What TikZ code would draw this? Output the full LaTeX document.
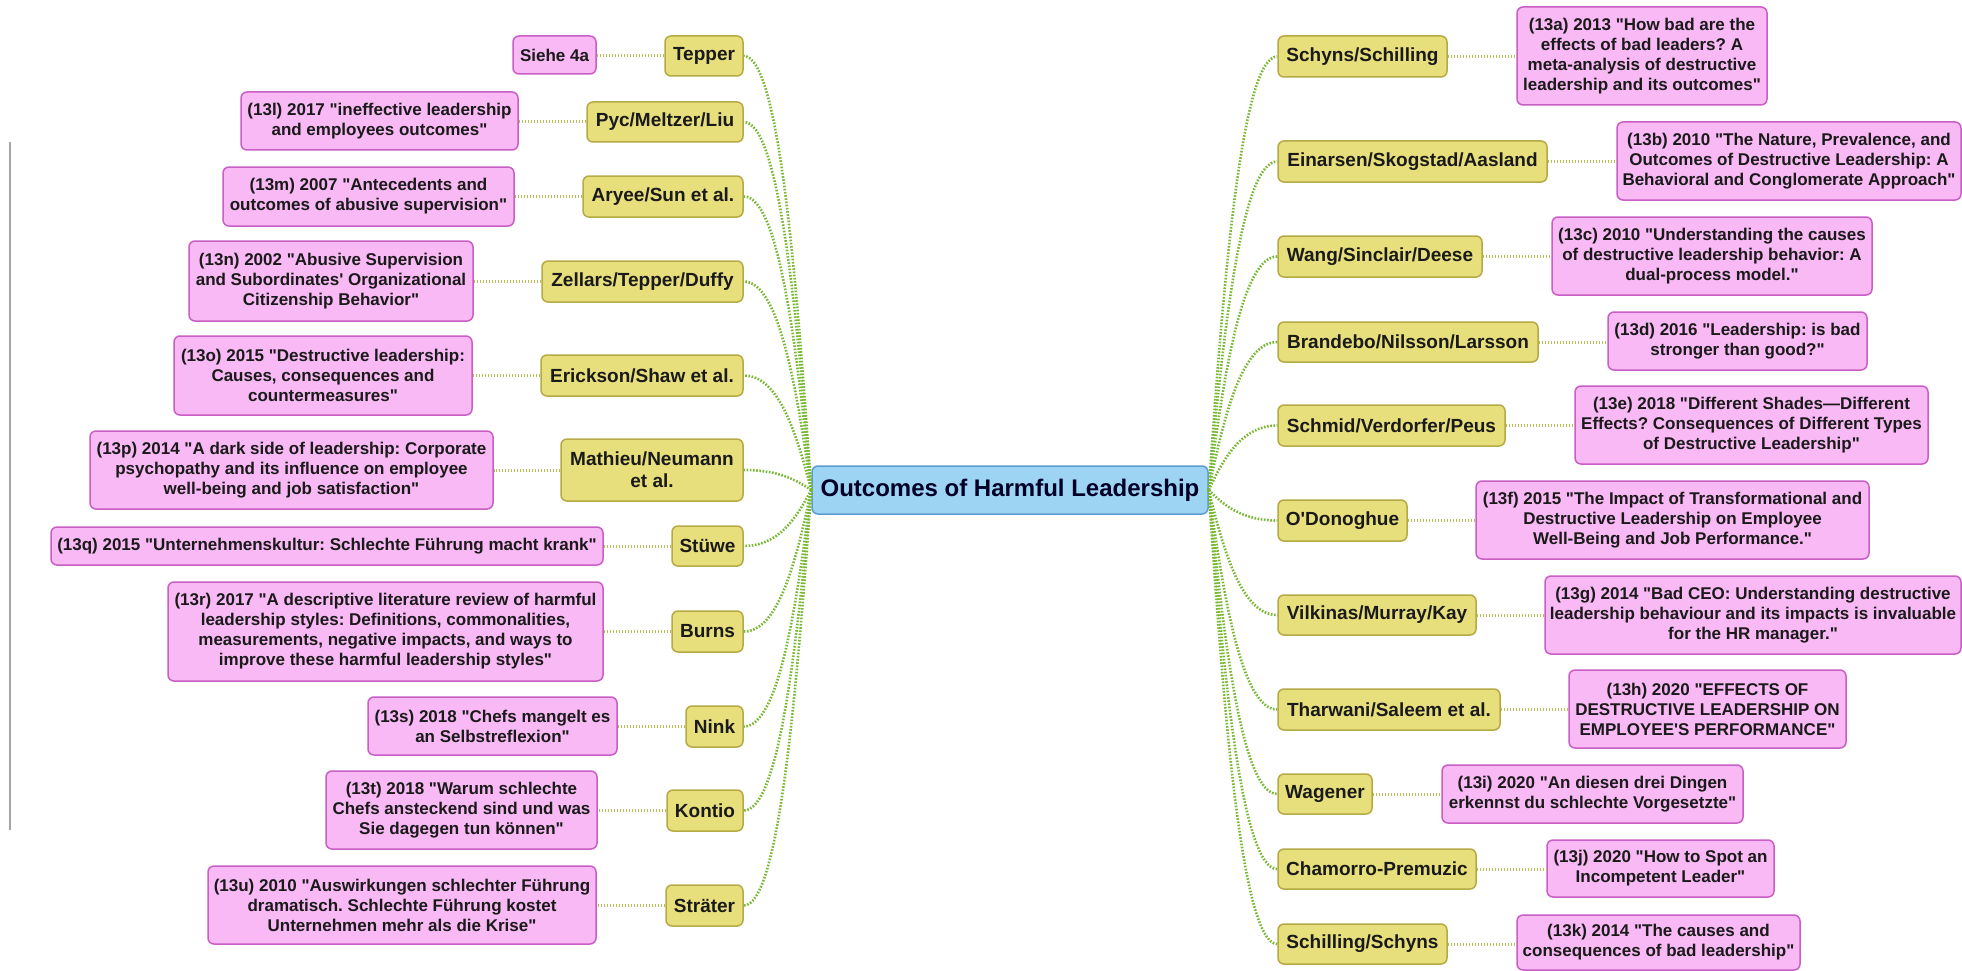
\documentclass[tikz,border=0pt]{standalone}
\usepackage{fontspec}
\newfontfamily\lsans{Liberation Sans}
\usetikzlibrary{calc}
\frenchspacing
\definecolor{yfill}{HTML}{E7DE7C}
\definecolor{ydraw}{HTML}{B5AA44}
\definecolor{pfill}{HTML}{F8B9F4}
\definecolor{pdraw}{HTML}{C95EC4}
\definecolor{cfill}{HTML}{9DD4F4}
\definecolor{cdraw}{HTML}{5C9DCF}
\definecolor{brgreen}{HTML}{78B832}
\definecolor{lkgreen}{HTML}{B7BE55}
\definecolor{txt}{HTML}{1A1A1A}
\tikzset{
  basebox/.style={rounded corners=6pt, line width=1.5pt, inner sep=2pt, align=center, text=txt},
  ynode/.style={basebox, fill=yfill, draw=ydraw, font=\lsans\bfseries\fontsize{19}{22}\selectfont},
  pnode/.style={basebox, fill=pfill, draw=pdraw, font=\lsans\bfseries\fontsize{17}{20}\selectfont},
  cnode/.style={basebox, fill=cfill, draw=cdraw, text=black!85!blue, font=\lsans\bfseries\fontsize{24}{28}\selectfont},
  branch/.style={draw=brgreen, line width=2.6pt, dash pattern=on 1.6pt off 1.6pt},
  link/.style={draw=lkgreen, line width=3pt, dash pattern=on 1.6pt off 1.4pt},
  sz/.style 2 args={minimum width=#1pt, minimum height=#2pt}
}
\begin{document}
\begin{tikzpicture}[x=1pt,y=-1pt]
\fill[white] (0,0) rectangle (1962,971);
\useasboundingbox (0,0) rectangle (1962,971);
\coordinate (gl1) at (10,142);
\coordinate (gl2) at (10,830);
\draw[gray!70, line width=1.5pt] (gl1) -- (gl2);

\node[cnode, sz={396}{48}] (C) at (1010,490) {Outcomes of Harmful Leadership};

% left yellow
\node[ynode, sz={78}{40}] (L1) at (704,56) {Tepper};
\node[ynode, sz={156}{40}] (L2) at (665,122) {Pyc/Meltzer/Liu};
\node[ynode, sz={160}{41}] (L3) at (663,196.5) {Aryee/Sun et al.};
\node[ynode, sz={201}{41}] (L4) at (642.5,281.5) {Zellars/Tepper/Duffy};
\node[ynode, sz={202}{41}] (L5) at (642,375.5) {Erickson/Shaw et al.};
\node[ynode, sz={182}{62}] (L6) at (652,470) {Mathieu/Neumann\\et al.};
\node[ynode, sz={71}{40}] (L7) at (707.5,546) {Stüwe};
\node[ynode, sz={71}{41}] (L8) at (707.5,631.5) {Burns};
\node[ynode, sz={57}{41}] (L9) at (714.5,726.5) {Nink};
\node[ynode, sz={76}{41}] (L10) at (705,810.5) {Kontio};
\node[ynode, sz={77}{41}] (L11) at (704.5,905.5) {Sträter};

% left pink
\node[pnode, sz={83}{38}] (P1) at (554.5,55) {Siehe 4a};
\node[pnode, sz={277}{58}] (P2) at (379.5,121) {(13l) 2017 "ineffective leadership\\and employees outcomes"};
\node[pnode, sz={291}{59}] (P3) at (368.5,196.5) {(13m) 2007 "Antecedents and\\outcomes of abusive supervision"};
\node[pnode, sz={284}{80}] (P4) at (331,281) {(13n) 2002 "Abusive Supervision\\and Subordinates' Organizational\\Citizenship Behavior"};
\node[pnode, sz={298}{79}] (P5) at (323,375.5) {(13o) 2015 "Destructive leadership:\\Causes, consequences and\\countermeasures"};
\node[pnode, sz={403}{78}] (P6) at (291.5,470) {(13p) 2014 "A dark side of leadership: Corporate\\psychopathy and its influence on employee\\well-being and job satisfaction"};
\node[pnode, sz={552}{38}] (P7) at (327,546) {(13q) 2015 "Unternehmenskultur: Schlechte Führung macht krank"};
\node[pnode, sz={435}{99}] (P8) at (385.5,631.5) {(13r) 2017 "A descriptive literature review of harmful\\leadership styles: Definitions, commonalities,\\measurements, negative impacts, and ways to\\improve these harmful leadership styles"};
\node[pnode, sz={249}{58}] (P9) at (492.5,726) {(13s) 2018 "Chefs mangelt es\\an Selbstreflexion"};
\node[pnode, sz={271}{78}] (P10) at (461.5,810) {(13t) 2018 "Warum schlechte\\Chefs ansteckend sind und was\\Sie dagegen tun können"};
\node[pnode, sz={388}{78}] (P11) at (402,905) {(13u) 2010 "Auswirkungen schlechter Führung\\dramatisch. Schlechte Führung kostet\\Unternehmen mehr als die Krise"};

% right yellow
\node[ynode, sz={169}{41}] (R1) at (1362.5,56.5) {Schyns/Schilling};
\node[ynode, sz={269}{41}] (R2) at (1412.5,161.5) {Einarsen/Skogstad/Aasland};
\node[ynode, sz={204}{41}] (R3) at (1380,256.5) {Wang/Sinclair/Deese};
\node[ynode, sz={260}{40}] (R4) at (1408,342) {Brandebo/Nilsson/Larsson};
\node[ynode, sz={227}{41}] (R5) at (1391.5,425.5) {Schmid/Verdorfer/Peus};
\node[ynode, sz={129}{41}] (R6) at (1342.5,520.5) {O'Donoghue};
\node[ynode, sz={198}{40}] (R7) at (1377,615) {Vilkinas/Murray/Kay};
\node[ynode, sz={222}{41}] (R8) at (1389,709.5) {Tharwani/Saleem et al.};
\node[ynode, sz={94}{40}] (R9) at (1325,794) {Wagener};
\node[ynode, sz={198}{40}] (R10) at (1377,869) {Chamorro-Premuzic};
\node[ynode, sz={169}{40}] (R11) at (1362.5,944) {Schilling/Schyns};

% right pink
\node[pnode, sz={250}{98}] (Q1) at (1642,56) {(13a) 2013 "How bad are the\\effects of bad leaders? A\\meta-analysis of destructive\\leadership and its outcomes"};
\node[pnode, sz={344}{78}] (Q2) at (1789,161) {(13b) 2010 "The Nature, Prevalence, and\\Outcomes of Destructive Leadership: A\\Behavioral and Conglomerate Approach"};
\node[pnode, sz={320}{78}] (Q3) at (1712,256) {(13c) 2010 "Understanding the causes\\of destructive leadership behavior: A\\dual-process model."};
\node[pnode, sz={259}{58}] (Q4) at (1737.5,341) {(13d) 2016 "Leadership: is bad\\stronger than good?"};
\node[pnode, sz={353}{78}] (Q5) at (1751.5,425) {(13e) 2018 "Different Shades—Different\\Effects? Consequences of Different Types\\of Destructive Leadership"};
\node[pnode, sz={393}{78}] (Q6) at (1672.5,520) {(13f) 2015 "The Impact of Transformational and\\Destructive Leadership on Employee\\Well-Being and Job Performance."};
\node[pnode, sz={416}{78}] (Q7) at (1753,615) {(13g) 2014 "Bad CEO: Understanding destructive\\leadership behaviour and its impacts is invaluable\\for the HR manager."};
\node[pnode, sz={277}{78}] (Q8) at (1707.5,709) {(13h) 2020 "EFFECTS OF\\DESTRUCTIVE LEADERSHIP ON\\EMPLOYEE'S PERFORMANCE"};
\node[pnode, sz={301}{58}] (Q9) at (1592.5,794) {(13i) 2020 "An diesen drei Dingen\\erkennst du schlechte Vorgesetzte"};
\node[pnode, sz={227}{57}] (Q10) at (1660.5,868.5) {(13j) 2020 "How to Spot an\\Incompetent Leader"};
\node[pnode, sz={283}{55}] (Q11) at (1658.5,942.5) {(13k) 2014 "The causes and\\consequences of bad leadership"};

% links yellow-pink
\foreach \i in {1,...,11}{
  \draw[link] (L\i.west) -- (L\i.west -| P\i.east);
  \draw[link] (R\i.east) -- (R\i.east -| Q\i.west);
}
% branches
\foreach \i in {1,...,11}{
  \draw[branch] (C.west) .. controls ($(C.west)!0.5!(C.west|-L\i.east)+(-15,0)$) and ($(L\i.east)+(35,0)$) .. (L\i.east);
  \draw[branch] (C.east) .. controls ($(C.east)!0.5!(C.east|-R\i.west)+(15,0)$) and ($(R\i.west)+(-35,0)$) .. (R\i.west);
}
\end{tikzpicture}
\end{document}
